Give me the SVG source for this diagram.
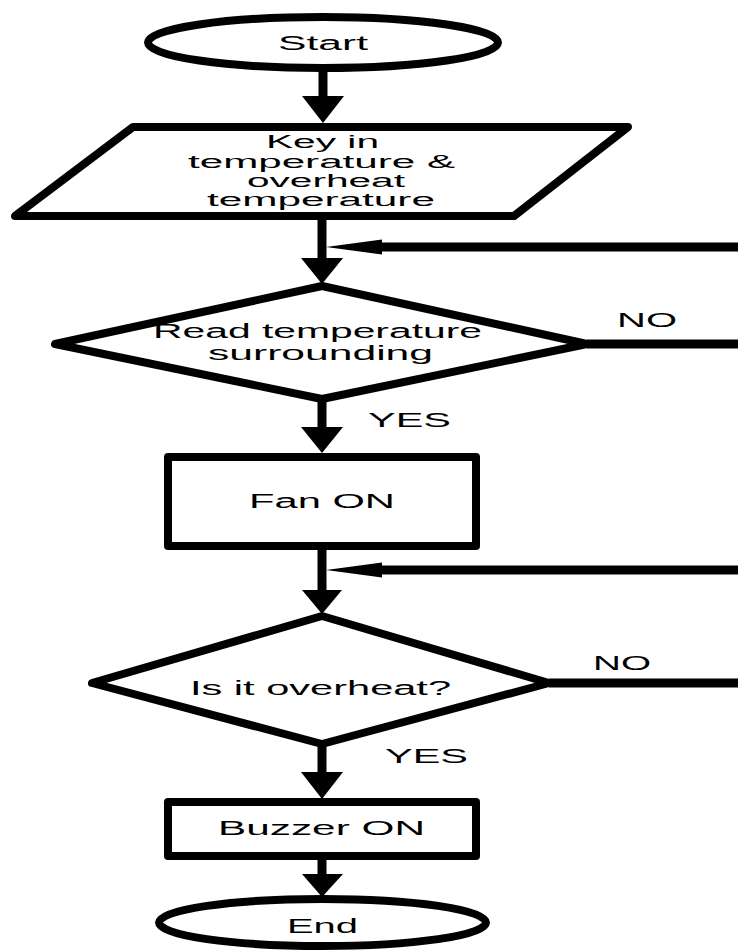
<svg xmlns="http://www.w3.org/2000/svg" width="738" height="952" viewBox="0 0 738 952">
<style>
.n{fill:#fff;stroke:#000;stroke-width:8;stroke-linejoin:round}
.c{fill:none;stroke:#000;stroke-width:9}
.h{fill:#000;stroke:none}
text{font-family:"Liberation Sans",Arial,sans-serif;font-size:20px;fill:#000}
.s{font-size:18px}
</style>
<rect width="738" height="952" fill="#fff"/>
<g id="connectors">
<line class="c" x1="323" y1="68" x2="323" y2="100"/>
<polygon class="h" points="302,96 344,96 323,123"/>
<line class="c" x1="322" y1="216" x2="322" y2="262"/>
<polygon class="h" points="301,258 343,258 322,284"/>
<line class="c" x1="738" y1="247" x2="370" y2="247"/>
<polygon class="h" points="326,247 382,239.5 382,254.5"/>
<line class="c" x1="587" y1="344" x2="738" y2="344"/>
<line class="c" x1="322" y1="399" x2="322" y2="430"/>
<polygon class="h" points="301,427 343,427 322,453"/>
<line class="c" x1="322" y1="546" x2="322" y2="594"/>
<polygon class="h" points="302,590 342,590 322,614"/>
<line class="c" x1="738" y1="570" x2="370" y2="570"/>
<polygon class="h" points="326,570 382,562.5 382,577.5"/>
<line class="c" x1="549" y1="683" x2="738" y2="683"/>
<line class="c" x1="322" y1="744" x2="322" y2="776"/>
<polygon class="h" points="301,772 343,772 322,799"/>
<line class="c" x1="322" y1="856" x2="322" y2="878"/>
<polygon class="h" points="302,874 343,874 322,897"/>
<text x="617" y="327" textLength="60" lengthAdjust="spacingAndGlyphs">NO</text>
<text x="368" y="427" textLength="83" lengthAdjust="spacingAndGlyphs">YES</text>
<text x="593" y="670" textLength="58" lengthAdjust="spacingAndGlyphs">NO</text>
<text x="385" y="763" textLength="83" lengthAdjust="spacingAndGlyphs">YES</text>
</g>
<g id="start">
<ellipse class="n" cx="323" cy="42.5" rx="175" ry="25.5"/>
<text x="278" y="50" textLength="90" lengthAdjust="spacingAndGlyphs">Start</text>
</g>
<g id="input">
<polygon class="n" points="133,127 628,127 514,216 15,216"/>
<text class="s" x="266" y="148" textLength="113" lengthAdjust="spacingAndGlyphs">Key in</text>
<text class="s" x="188" y="168" textLength="267" lengthAdjust="spacingAndGlyphs">temperature &amp;</text>
<text class="s" x="247" y="187" textLength="158" lengthAdjust="spacingAndGlyphs">overheat</text>
<text class="s" x="207" y="206" textLength="228" lengthAdjust="spacingAndGlyphs">temperature</text>
</g>
<g id="read">
<polygon class="n" points="322,286 587,344 322,399 55,344"/>
<text x="153" y="338" textLength="329" lengthAdjust="spacingAndGlyphs">Read temperature</text>
<text x="208" y="360" textLength="225" lengthAdjust="spacingAndGlyphs">surrounding</text>
</g>
<g id="fan">
<rect class="n" x="168" y="457" width="308" height="89"/>
<text x="249" y="508" textLength="146" lengthAdjust="spacingAndGlyphs">Fan ON</text>
</g>
<g id="overheat">
<polygon class="n" points="322,616 549,683 322,744 92,683"/>
<text x="190" y="695" textLength="261" lengthAdjust="spacingAndGlyphs">Is it overheat?</text>
</g>
<g id="buzzer">
<rect class="n" x="168" y="802" width="308" height="54"/>
<text x="218" y="835" textLength="207" lengthAdjust="spacingAndGlyphs">Buzzer ON</text>
</g>
<g id="end">
<ellipse class="n" cx="322.5" cy="922.5" rx="163.5" ry="23.5"/>
<text x="287" y="933" textLength="71" lengthAdjust="spacingAndGlyphs">End</text>
</g>
</svg>
